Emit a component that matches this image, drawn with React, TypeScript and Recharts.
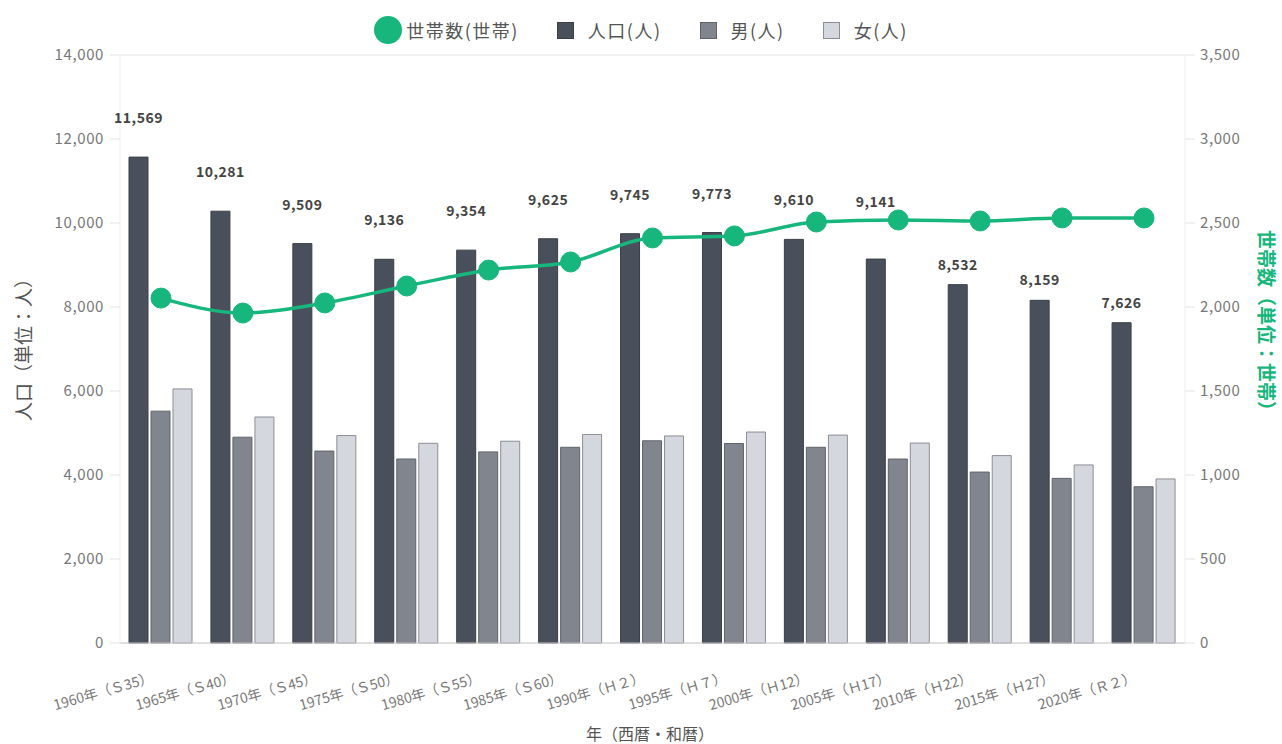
import React from "react";
import {
  ComposedChart,
  Bar,
  Line,
  XAxis,
  YAxis,
  CartesianGrid,
  LabelList,
} from "recharts";

const years = [
  "1960年（Ｓ35）",
  "1965年（Ｓ40）",
  "1970年（Ｓ45）",
  "1975年（Ｓ50）",
  "1980年（Ｓ55）",
  "1985年（Ｓ60）",
  "1990年（Ｈ２）",
  "1995年（Ｈ７）",
  "2000年（Ｈ12）",
  "2005年（Ｈ17）",
  "2010年（Ｈ22）",
  "2015年（Ｈ27）",
  "2020年（Ｒ２）",
];
const population = [11569, 10281, 9509, 9136, 9354, 9625, 9745, 9773, 9610, 9141, 8532, 8159, 7626];
const male = [5520, 4900, 4570, 4381, 4550, 4660, 4815, 4750, 4660, 4380, 4070, 3920, 3720];
const female = [6049, 5381, 4939, 4755, 4804, 4965, 4930, 5023, 4950, 4761, 4462, 4239, 3906];
const households = [2053, 1964, 2024, 2125, 2220, 2268, 2411, 2423, 2506, 2518, 2512, 2530, 2530];

const leftTicks = [0, 2000, 4000, 6000, 8000, 10000, 12000, 14000];
const rightTicks = [0, 500, 1000, 1500, 2000, 2500, 3000, 3500];

// how far each value label sits above its bar (labels dodge the line dots)
const labelLift = [40, 40, 40, 40, 40, 40, 40, 40, 40, 58, 21, 21, 21];

const GREEN = "#17b67c";
const FONT = "'Noto Sans CJK JP', 'Noto Sans', sans-serif";

const data = years.map((y, i) => ({
  year: y,
  population: population[i],
  male: male[i],
  female: female[i],
  households: households[i],
}));

const fmt = (v: number) => v.toLocaleString("en-US");

const XTick = ({ x, y, payload }: any) => {
  const ax = x - 7;
  const ay = y + 31;
  return (
    <text
      x={ax}
      y={ay}
      transform={`rotate(-16, ${ax}, ${ay})`}
      textAnchor="end"
      fill="#777"
      fontSize={14}
      fontFamily={FONT}
    >
      {payload.value}
    </text>
  );
};

const ValueLabel = ({ x, y, width, value, index }: any) => (
  <text
    x={x + width / 2}
    y={y - labelLift[index]}
    textAnchor="middle"
    dominantBaseline="central"
    fill="#444"
    fontSize={14}
    fontWeight="bold"
    letterSpacing={0.5}
    fontFamily={FONT}
  >
    {fmt(value)}
  </text>
);

const legendItems = [
  { name: "世帯数(世帯)", color: GREEN, circle: true },
  { name: "人口(人)", color: "#4a505b", border: "#3a3f47" },
  { name: "男(人)", color: "#80858e", border: "#5f646c" },
  { name: "女(人)", color: "#d5d7de", border: "#8b8e95" },
];

export default function App() {
  return (
    <div
      style={{
        position: "absolute",
        left: 0,
        top: 0,
        width: 1282,
        height: 744,
        background: "#fff",
        fontFamily: FONT,
      }}
    >
      <div
        style={{
          position: "absolute",
          top: 16,
          left: 0,
          width: 1282,
          display: "flex",
          justifyContent: "center",
          alignItems: "center",
          gap: 38,
          fontSize: 18,
          letterSpacing: 1.5,
          color: "#555",
        }}
      >
        {legendItems.map((it) => (
          <div key={it.name} style={{ display: "flex", alignItems: "center", gap: it.circle ? 4 : 14 }}>
            {it.circle ? (
              <span
                style={{ width: 28, height: 28, borderRadius: 14, background: it.color, display: "inline-block" }}
              />
            ) : (
              <span
                style={{
                  width: 17,
                  height: 17,
                  background: it.color,
                  border: `1px solid ${it.border}`,
                  boxSizing: "border-box",
                  display: "inline-block",
                }}
              />
            )}
            <span>{it.name}</span>
          </div>
        ))}
      </div>

      <ComposedChart
        width={1282}
        height={744}
        data={data}
        margin={{ top: 55, right: 37, bottom: 41, left: 50 }}
        barGap={3}
      >
        <CartesianGrid vertical={false} stroke="#eeeeee" strokeWidth={1.5} />
        <XAxis
          dataKey="year"
          interval={0}
          tickLine={false}
          axisLine={{ stroke: "#cccccc" }}
          tick={<XTick />}
          height={60}
        />
        <YAxis
          yAxisId="left"
          domain={[0, 14000]}
          ticks={leftTicks}
          width={70}
          tickFormatter={fmt}
          tick={{ fill: "#777", fontSize: 15, fontFamily: FONT, letterSpacing: 0.6 }}
          tickLine={{ stroke: "#e5e5e5" }}
          axisLine={{ stroke: "#eeeeee" }}
          tickSize={10}
          tickMargin={6}
        />
        <YAxis
          yAxisId="right"
          orientation="right"
          domain={[0, 3500]}
          ticks={rightTicks}
          width={60}
          tickFormatter={fmt}
          tick={{ fill: "#777", fontSize: 15, fontFamily: FONT, letterSpacing: 0.6 }}
          tickLine={{ stroke: "#e5e5e5" }}
          axisLine={{ stroke: "#eeeeee" }}
          tickSize={10}
          tickMargin={5}
        />
        <Bar
          yAxisId="left"
          dataKey="population"
          name="人口(人)"
          fill="#4a505b"
          stroke="#3a3f47"
          strokeWidth={1}
          barSize={19}
          isAnimationActive={false}
        >
          <LabelList dataKey="population" content={<ValueLabel />} />
        </Bar>
        <Bar
          yAxisId="left"
          dataKey="male"
          name="男(人)"
          fill="#80858e"
          stroke="#5f646c"
          strokeWidth={1}
          barSize={19}
          isAnimationActive={false}
        />
        <Bar
          yAxisId="left"
          dataKey="female"
          name="女(人)"
          fill="#d5d7de"
          stroke="#8b8e95"
          strokeWidth={1}
          barSize={19}
          isAnimationActive={false}
        />
        <Line
          yAxisId="right"
          type="monotone"
          dataKey="households"
          name="世帯数(世帯)"
          stroke={GREEN}
          strokeWidth={3.5}
          dot={{ r: 10, fill: GREEN, stroke: GREEN, strokeWidth: 1 }}
          activeDot={false}
          isAnimationActive={false}
        />
        <text
          x={22}
          y={345}
          transform="rotate(-90, 22, 345)"
          textAnchor="middle"
          dominantBaseline="central"
          fill="#555"
          fontSize={19}
          fontFamily={FONT}
        >
          人口（単位：人）
        </text>
        <text
          x={1267}
          y={325}
          transform="rotate(90, 1267, 325)"
          textAnchor="middle"
          dominantBaseline="central"
          fill={GREEN}
          fontSize={19}
          fontWeight="bold"
          fontFamily={FONT}
        >
          世帯数（単位：世帯）
        </text>
        <text
          x={650}
          y={733}
          textAnchor="middle"
          dominantBaseline="central"
          fill="#555"
          fontSize={16}
          fontFamily={FONT}
        >
          年（西暦・和暦）
        </text>
      </ComposedChart>
    </div>
  );
}
